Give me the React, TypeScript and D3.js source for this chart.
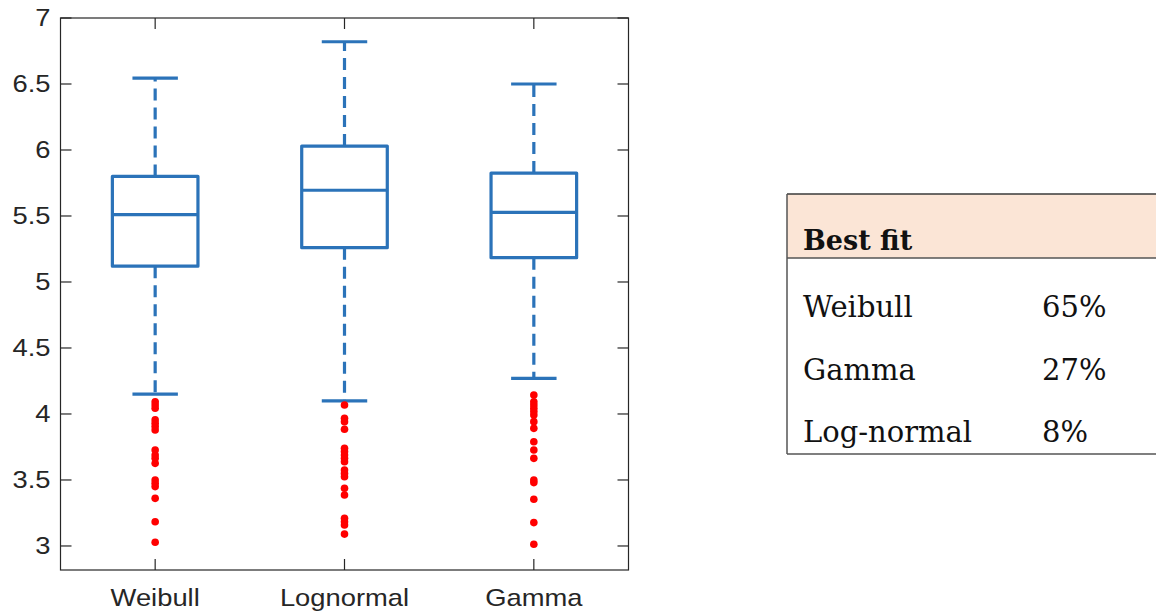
import React from "react";
import * as d3 from "d3";

const categories = ["Weibull", "Lognormal", "Gamma"];
const upperWhisker = [6.545, 6.82, 6.5];
const q3 = [5.8, 6.03, 5.825];
const median = [5.51, 5.695, 5.527];
const q1 = [5.12, 5.26, 5.184];
const lowerWhisker = [4.15, 4.1, 4.27];
const outliersWeibull = [4.093, 4.068, 4.043, 3.955, 3.93, 3.905, 3.879, 3.727, 3.689, 3.664, 3.626, 3.5, 3.475, 3.45, 3.361, 3.184, 3.028];
const outliersLognormal = [4.068, 3.967, 3.942, 3.884, 3.74, 3.715, 3.689, 3.664, 3.639, 3.576, 3.55, 3.525, 3.437, 3.386, 3.21, 3.184, 3.159, 3.09];
const outliersGamma = [4.144, 4.093, 4.068, 4.043, 4.018, 3.992, 3.942, 3.891, 3.79, 3.727, 3.664, 3.5, 3.48, 3.354, 3.177, 3.013];
const yTicks = [3, 3.5, 4, 4.5, 5, 5.5, 6, 6.5, 7];

const tableHeader = "Best fit";
const tableNames = ["Weibull", "Gamma", "Log-normal"];
const tableValues = ["65%", "27%", "8%"];

const outliers = [outliersWeibull, outliersLognormal, outliersGamma];

export default function App() {
  const W = 1156, H = 612;
  const left = 60.5, right = 628.5, top = 18, bottom = 570;
  const x = d3.scaleLinear().domain([0.5, 3.5]).range([left, right]);
  const y = d3.scaleLinear().domain([7, 2.818]).range([top, bottom]);
  const unit = x(1) - x(0);
  const boxHalf = unit * 0.226;
  const capHalf = unit * 0.12;
  const blue = "#2b73b9";
  const axisCol = "#262626";
  const tickLen = 11;
  const serif = "'DejaVu Serif', 'Liberation Serif', serif";
  const sans = "'Liberation Sans', Arial, sans-serif";

  const rowY = [317, 380, 442];

  return (
    <svg width={W} height={H} style={{ position: "absolute", left: 0, top: 0, background: "#fff" }}>
      {/* axes box */}
      <rect x={left} y={top} width={right - left} height={bottom - top} fill="none" stroke={axisCol} strokeWidth={1.2} />
      {yTicks.map((t) => (
        <g key={"yt" + t}>
          <line x1={left} x2={left + tickLen} y1={y(t)} y2={y(t)} stroke={axisCol} strokeWidth={1.2} />
          <line x1={right - tickLen} x2={right} y1={y(t)} y2={y(t)} stroke={axisCol} strokeWidth={1.2} />
          <g transform={`translate(${left - 10},${y(t)}) scale(1.14,1)`}>
            <text x={0} y={0} dy="0.35em" textAnchor="end" fontFamily={sans} fontSize={24} fill={axisCol}>
              {String(t)}
            </text>
          </g>
        </g>
      ))}
      {categories.map((c, i) => (
        <g key={"xt" + c}>
          <line x1={x(i + 1)} x2={x(i + 1)} y1={bottom} y2={bottom - tickLen} stroke={axisCol} strokeWidth={1.2} />
          <line x1={x(i + 1)} x2={x(i + 1)} y1={top} y2={top + tickLen} stroke={axisCol} strokeWidth={1.2} />
          <g transform={`translate(${x(i + 1)},${605.5}) scale(1.14,1)`}>
            <text x={0} y={0} textAnchor="middle" fontFamily={sans} fontSize={24} fill={axisCol}>
              {c}
            </text>
          </g>
        </g>
      ))}
      {/* boxes */}
      {categories.map((c, i) => {
        const cx = x(i + 1);
        return (
          <g key={"box" + c} stroke={blue} strokeWidth={3.2} fill="none" strokeLinejoin="round">
            <line x1={cx} x2={cx} y1={y(q3[i])} y2={y(upperWhisker[i])} strokeDasharray="12,7" />
            <line x1={cx} x2={cx} y1={y(q1[i])} y2={y(lowerWhisker[i])} strokeDasharray="12,7" />
            <line x1={cx - capHalf} x2={cx + capHalf} y1={y(upperWhisker[i])} y2={y(upperWhisker[i])} />
            <line x1={cx - capHalf} x2={cx + capHalf} y1={y(lowerWhisker[i])} y2={y(lowerWhisker[i])} />
            <rect x={cx - boxHalf} y={y(q3[i])} width={boxHalf * 2} height={y(q1[i]) - y(q3[i])} />
            <line x1={cx - boxHalf} x2={cx + boxHalf} y1={y(median[i])} y2={y(median[i])} />
            {outliers[i].map((v, j) => (
              <circle key={j} cx={cx} cy={y(v)} r={3.8} fill="#ff0000" stroke="none" />
            ))}
          </g>
        );
      })}
      {/* table */}
      <g>
        <rect x={787} y={194} width={W - 787} height={64} fill="#fbe5d6" />
        <line x1={787} x2={W} y1={194} y2={194} stroke="#3a3a3a" strokeWidth={1.5} />
        <line x1={787} x2={W} y1={258} y2={258} stroke="#555" strokeWidth={1.5} />
        <line x1={787} x2={W} y1={454} y2={454} stroke="#555" strokeWidth={1.5} />
        <line x1={787} x2={787} y1={194} y2={454} stroke="#555" strokeWidth={1.5} />
        <text x={803} y={250} fontFamily={serif} fontWeight="bold" fontSize={27} fill="#111">
          {tableHeader}
        </text>
        {tableNames.map((n, i) => (
          <g key={"row" + n}>
            <text x={803} y={rowY[i]} fontFamily={serif} fontSize={29} fill="#111">{n}</text>
            <text x={1042} y={rowY[i]} fontFamily={serif} fontSize={29} fill="#111">{tableValues[i]}</text>
          </g>
        ))}
      </g>
    </svg>
  );
}
